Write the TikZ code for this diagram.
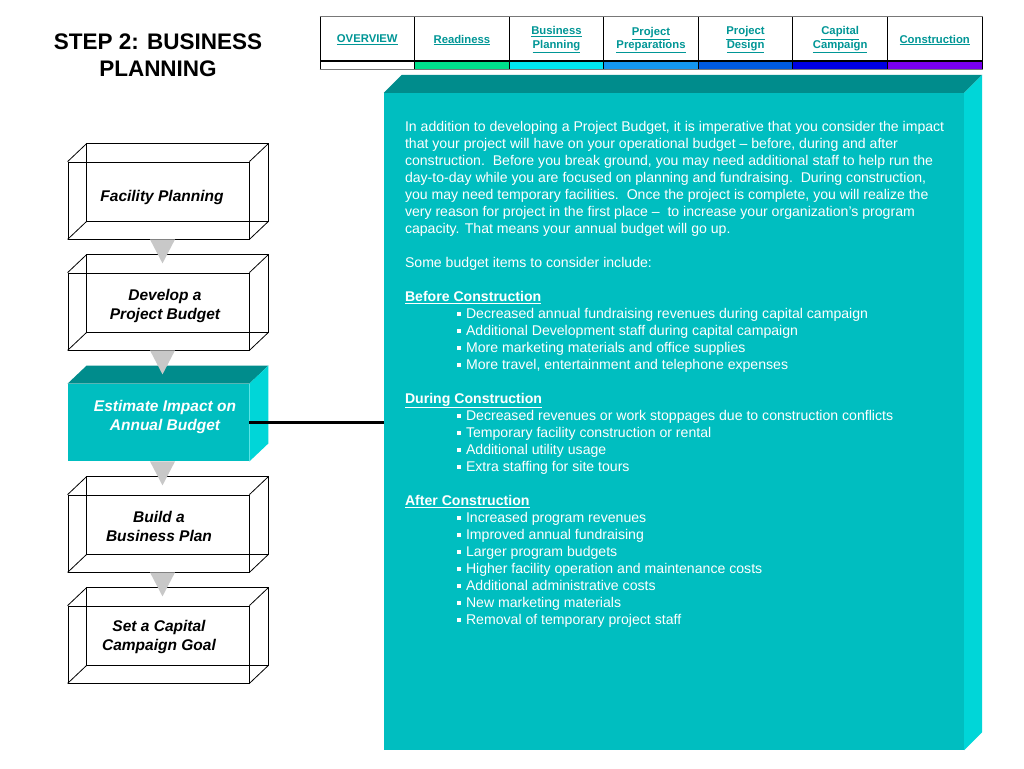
\documentclass[tikz,border=0pt]{standalone}
\usepackage{fontspec}
\setmainfont{Liberation Sans}
\usetikzlibrary{positioning}

\definecolor{navteal}{RGB}{0,150,150}
\definecolor{navedge}{RGB}{120,120,120}
\definecolor{tealfront}{RGB}{0,190,192}
\definecolor{tealtop}{RGB}{0,140,140}
\definecolor{tealside}{RGB}{0,214,216}
\definecolor{flowgray}{RGB}{200,200,200}
\definecolor{barA}{RGB}{0,224,140}
\definecolor{barB}{RGB}{0,230,242}
\definecolor{barC}{RGB}{20,150,240}
\definecolor{barD}{RGB}{0,90,224}
\definecolor{barE}{RGB}{0,0,228}
\definecolor{barF}{RGB}{120,0,240}

\newcommand{\navlink}[1]{\underline{#1}}
\newcommand{\budgetitem}[1]{\hspace*{52pt}\rule[2pt]{4pt}{4pt}\hspace{5pt}#1}
% back edges of a see-through step box
\newcommand{\stepdepth}[1]{%
  \draw[stepline] ([shift={(19,-18)}]#1.north west) rectangle ([shift={(19,-18)}]#1.south east);
  \draw[stepline] (#1.north west) -- ++(19,-18) (#1.north east) -- ++(19,-18)
                  (#1.south east) -- ++(19,-18) (#1.south west) -- ++(19,-18);}

\begin{document}
\begin{tikzpicture}[x=1pt, y=-1pt,
  titletext/.style={font=\fontsize{22.5}{27}\selectfont\bfseries, align=center},
  navcell/.style={draw=black, line width=1pt, minimum width=94.57pt, minimum height=43pt, inner sep=0pt},
  navlabel/.style={align=center, text=navteal, inner sep=0pt,
                   font=\fontsize{11.3}{13.8}\selectfont\bfseries},
  navbar/.style={draw=black, line width=1pt, minimum width=94.57pt, minimum height=8pt, inner sep=0pt},
  stepface/.style={draw=black, line width=0.8pt, minimum width=181pt, minimum height=77pt, inner sep=0pt},
  stepline/.style={draw=black, line width=0.8pt},
  steptext/.style={font=\fontsize{15.5}{19}\selectfont\bfseries\itshape, align=center},
  panelface/.style={fill=tealfront, minimum width=580pt, minimum height=657pt, inner sep=0pt},
  panelbody/.style={text=white, align=left, inner sep=0pt, font=\fontsize{14.1}{17}\selectfont},
]
  \fill[white] (0,0) rectangle (1024,768);
  \useasboundingbox (0,0) rectangle (1024,768);

  \node[titletext] (title) at (158,55.5) {STEP 2: BUSINESS\\PLANNING};

  % navigation strip
  \foreach \lbl/\clr [count=\i] in {%
    {\navlink{OVERVIEW}}/white,
    {\navlink{Readiness}}/barA,
    {\navlink{Business}\\\navlink{Planning}}/barB,
    {\navlink{Project}\\\navlink{Preparations}}/barC,
    {\navlink{Project}\\\navlink{Design}}/barD,
    {\navlink{Capital}\\\navlink{Campaign}}/barE,
    {\navlink{Construction}}/barF}
  {
    \node[navcell] (nav\i) at ({367.3+94.57*(\i-1)}, 38.5) {};
    \node[navlabel] (navtext\i) at ([yshift=-1.5pt]nav\i.center) {\lbl};
    \node[navbar, fill=\clr, below=0pt of nav\i] (bar\i) {};
  }
  \draw[navedge, line width=1pt] (nav1.north west) -- (nav7.north east);
  \draw[navedge, line width=1pt] (bar1.south west) -- (bar7.south east);

  % big panel
  \node[panelface] (panel) at (674,421.5) {};
  \fill[tealtop] (panel.north west) -- ++(18,-18) -- ([shift={(18,-18)}]panel.north east)
    -- (panel.north east) -- cycle;
  \fill[tealside] (panel.north east) -- ++(18,-18) -- ([shift={(18,-18)}]panel.south east)
    -- (panel.south east) -- cycle;
  \node[panelbody, anchor=north west] (budgettext) at ([shift={(21,28)}]panel.north west) {%
    In addition to developing a Project Budget, it is imperative that you consider the impact\\
    that your project will have on your operational budget -- before, during and after\\
    construction.\ \ Before you break ground, you may need additional staff to help run the\\
    day-to-day while you are focused on planning and fundraising.\ \ During construction,\\
    you may need temporary facilities.\ \ Once the project is complete, you will realize the\\
    very reason for project in the first place --\ \ to increase your organization's program\\
    capacity. That means your annual budget will go up.\\[17pt]
    Some budget items to consider include:\\[17pt]
    \textbf{\underline{Before Construction}}\\
    \budgetitem{Decreased annual fundraising revenues during capital campaign}\\
    \budgetitem{Additional Development staff during capital campaign}\\
    \budgetitem{More marketing materials and office supplies}\\
    \budgetitem{More travel, entertainment and telephone expenses}\\[17pt]
    \textbf{\underline{During Construction}}\\
    \budgetitem{Decreased revenues or work stoppages due to construction conflicts}\\
    \budgetitem{Temporary facility construction or rental}\\
    \budgetitem{Additional utility usage}\\
    \budgetitem{Extra staffing for site tours}\\[17pt]
    \textbf{\underline{After Construction}}\\
    \budgetitem{Increased program revenues}\\
    \budgetitem{Improved annual fundraising}\\
    \budgetitem{Larger program budgets}\\
    \budgetitem{Higher facility operation and maintenance costs}\\
    \budgetitem{Additional administrative costs}\\
    \budgetitem{New marketing materials}\\
    \budgetitem{Removal of temporary project staff}};

  % step boxes
  \foreach \k/\lbl/\dx/\dy in {1/{Facility Planning}/3.5/-3.5,
                               2/{Develop a\\Project Budget}/6.5/-6,
                               4/{Build a\\Business Plan}/0.5/-7.5,
                               5/{Set a Capital\\Campaign Goal}/0.5/-7.5}
  {
    \node[stepface] (step\k) at (158.5, {200.5+111*(\k-1)}) {};
    \stepdepth{step\k}
    \node[steptext] (lbl\k) at ([shift={(\dx,\dy)}]step\k.center) {\lbl};
  }
  \node[stepface, draw=none, fill=tealfront] (step3) at (158.5,422.5) {};
  \fill[tealtop] (step3.north west) -- ++(19,-18) -- ([shift={(19,-18)}]step3.north east)
    -- (step3.north east) -- cycle;
  \fill[tealside] (step3.north east) -- ++(19,-18) -- ([shift={(19,-18)}]step3.south east)
    -- (step3.south east) -- cycle;
  \node[steptext, text=white] (lbl3) at ([shift={(6.5,-6)}]step3.center) {Estimate Impact on\\Annual Budget};

  % flow triangles
  \foreach \k in {1,...,4}
    \fill[flowgray] ([xshift=-8.5pt]step\k.south) -- ([xshift=16.5pt]step\k.south)
      -- ([xshift=4pt,yshift=-24pt]step\k.south) -- cycle;

  \draw[line width=2.5pt] (step3.east) -- (step3.east -| panel.west);
\end{tikzpicture}
\end{document}
